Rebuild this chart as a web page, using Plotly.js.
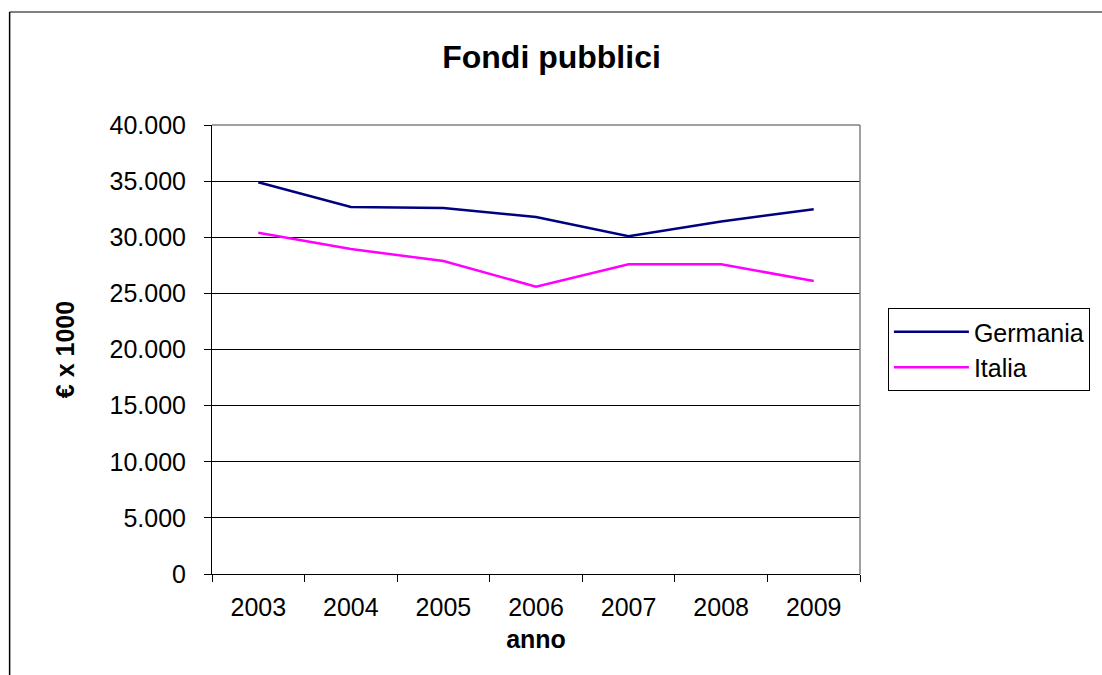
<!DOCTYPE html>
<html>
<head>
<meta charset="utf-8">
<script src="https://cdn.plot.ly/plotly-3.0.1.min.js"></script>
<style>
html,body{margin:0;padding:0;background:#fff;}
#chart{width:1102px;height:675px;}
</style>
</head>
<body>
<div id="chart"></div>
<script>
const years = ["2003","2004","2005","2006","2007","2008","2009"];
const germania = [34900, 32700, 32600, 31800, 30100, 31400, 32500];
const italia = [30400, 28950, 27880, 25600, 27600, 27600, 26100];
const yTicks = [0, 5000, 10000, 15000, 20000, 25000, 30000, 35000, 40000];

const W = 1102, H = 675;
const L = 212, R = 862, T = 125, B = 574;
const pw = R - L, ph = B - T;
const px = v => (v - L) / pw;
const py = v => (B - v) / ph;

const font = "Liberation Sans, Arial, sans-serif";
const FS = 25;

const traces = [
  {x: years, y: germania, name: "Germania", type: "scatter", mode: "lines",
   line: {color: "#000080", width: 2.5}},
  {x: years, y: italia, name: "Italia", type: "scatter", mode: "lines",
   line: {color: "#FF00FF", width: 2.5}}
];

const layout = {
  width: W, height: H,
  margin: {l: L, r: W - R, t: T, b: H - B, pad: 0},
  paper_bgcolor: "#ffffff",
  plot_bgcolor: "#ffffff",
  separators: ",.",
  font: {family: font, size: FS, color: "#000"},
  title: {text: "<b>Fondi pubblici</b>", x: 551.5 / W, xref: "container", xanchor: "center",
          y: 1 - 57 / H, yref: "container", yanchor: "middle",
          font: {family: font, size: 32, color: "#000"}},
  xaxis: {
    type: "category",
    categoryorder: "array", categoryarray: years,
    range: [-0.5, 6.5],
    tickson: "boundaries",
    ticks: "outside", ticklen: 7, tickcolor: "#000", tickwidth: 1,
    showline: true, linecolor: "#000", linewidth: 1, mirror: false,
    showgrid: false, zeroline: false,
    tickfont: {family: font, size: FS, color: "#000"},
    ticklabelstandoff: 11,
    title: {text: "<b>anno</b>", font: {family: font, size: FS, color: "#000"}, standoff: 10}
  },
  yaxis: {
    range: [0, 40000],
    tickvals: yTicks,
    tickformat: ",d",
    ticks: "outside", ticklen: 7, tickcolor: "#000", tickwidth: 1,
    showline: true, linecolor: "#000", linewidth: 1,
    showgrid: true, gridcolor: "#000", gridwidth: 1,
    zeroline: false,
    tickfont: {family: font, size: FS, color: "#000"},
    ticklabelstandoff: 13,
    title: {text: "<b>€ x 1000</b>", font: {family: font, size: FS, color: "#000"}, standoff: 27}
  },
  showlegend: true,
  legend: {
    x: px(890), y: py(308), xanchor: "left", yanchor: "top",
    xref: "paper", yref: "paper",
    bgcolor: "#ffffff", bordercolor: "#000", borderwidth: 1,
    font: {family: font, size: FS, color: "#000"},
    tracegroupgap: 0, itemwidth: 75
  },
  shapes: [
    {type: "line", xref: "paper", yref: "paper", x0: 0, x1: 1, y0: 1, y1: 1,
     line: {color: "#808080", width: 1.5}},
    {type: "line", xref: "paper", yref: "paper", x0: 1, x1: 1, y0: 0, y1: 1,
     line: {color: "#808080", width: 1.5}},
    {type: "line", xref: "paper", yref: "paper", x0: px(9), x1: px(1110), y0: py(12), y1: py(12),
     line: {color: "#808080", width: 2}},
    {type: "line", xref: "paper", yref: "paper", x0: px(9), x1: px(9), y0: py(12), y1: py(690),
     line: {color: "#000", width: 1.5}}
  ]
};

Plotly.newPlot("chart", traces, layout, {staticPlot: true, displayModeBar: false});
</script>
</body>
</html>
